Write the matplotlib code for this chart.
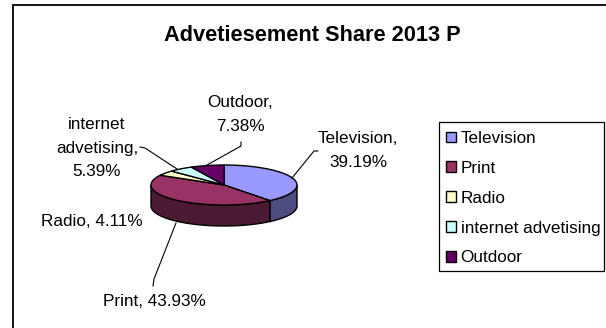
import numpy as np
import matplotlib
matplotlib.use('Agg')
import matplotlib.pyplot as plt
from matplotlib.patches import Polygon, Patch, Rectangle

categories = ['Television', 'Print', 'Radio', 'internet advetising', 'Outdoor']
shares = [39.19, 43.93, 4.11, 5.39, 7.38]
top_colors = ['#9999FF', '#993366', '#FFFFCC', '#CCFFFF', '#660066']
side_colors = ['#4D4D80', '#4D1A33', '#808066', '#668080', '#330033']

plt.rcParams['font.family'] = ['Liberation Sans', 'DejaVu Sans']

W, H = 606, 328
cx, cy, rx, ry, depth = 224, 185, 73, 20, 21

fig = plt.figure(figsize=(W / 100, H / 100), dpi=100)
ax = fig.add_axes([0, 0, 1, 1])
ax.set_xlim(0, W)
ax.set_ylim(H, 0)
ax.axis('off')


def rim(a0, a1, dy=0):
    # points on the ellipse, angles clockwise from 12 o'clock
    t = np.radians(np.linspace(a0, a1, 80))
    return np.column_stack([cx + rx * np.sin(t), cy + dy - ry * np.cos(t)])


# outer frame, only top and left are inside the image
ax.plot([W, 13, 13], [5, 5, H], color='#111111', lw=1.4, solid_joinstyle='miter')

ax.text(312, 35.5, 'Advetiesement Share 2013 P', ha='center', va='center',
        fontsize=15.7, fontweight='bold', color='black')

edges = np.concatenate([[0], np.cumsum(shares)]) * 3.6

# walls first, only the front half of the cake shows
for i in range(len(shares)):
    a0, a1 = max(edges[i], 90), min(edges[i + 1], 270)
    if a0 >= a1:
        continue
    wall = np.vstack([rim(a0, a1), rim(a0, a1, depth)[::-1]])
    ax.add_patch(Polygon(wall, closed=True, fc=side_colors[i], ec='black', lw=1.0, zorder=2))

# top face
for i in range(len(shares)):
    face = np.vstack([[cx, cy], rim(edges[i], edges[i + 1])])
    ax.add_patch(Polygon(face, closed=True, fc=top_colors[i], ec='black', lw=1.0, zorder=3))

# data labels
label_font = 12.3
line_gap = 1.72
ax.text(358, 150.5, f'{categories[0]},\n{shares[0]:.2f}%', ha='center', va='center',
        fontsize=label_font, linespacing=line_gap)
ax.text(154, 301, f'{categories[1]}, {shares[1]:.2f}%', ha='center', va='center', fontsize=label_font)
ax.text(92, 222, f'{categories[2]}, {shares[2]:.2f}%', ha='center', va='center', fontsize=label_font)
ax.text(97, 148, f'internet\nadvetising,\n{shares[3]:.2f}%', ha='center', va='center',
        fontsize=label_font, linespacing=line_gap)
ax.text(240, 114.5, f'{categories[4]},\n{shares[4]:.2f}%', ha='center', va='center',
        fontsize=label_font, linespacing=line_gap)

# leader lines
leaders = [
    ([292, 314, 318], [178, 151, 151]),
    ([176, 154, 153], [223, 279, 286]),
    ([177, 145, 140], [169, 148, 147]),
    ([207, 241, 241], [165, 146, 142]),
]
for xs, ys in leaders:
    ax.plot(xs, ys, color='black', lw=0.8, zorder=4)

# legend box drawn by hand so its size stays fixed, thin grey drop shadow behind
ax.add_patch(Rectangle((440, 123), 164.5, 149, fc='#808080', ec='none', zorder=1))
ax.add_patch(Rectangle((439, 122), 164.5, 149, fc='white', ec='black', lw=0.9, zorder=1.5))
handles = [Patch(fc=c, ec='black', lw=1.0) for c in top_colors]
leg = ax.legend(handles, categories, loc='upper left', bbox_to_anchor=(445.5, 131),
                bbox_transform=ax.transData, fontsize=label_font, frameon=False,
                borderaxespad=0, borderpad=0, handlelength=0.6, handleheight=0.6,
                handletextpad=0.29, labelspacing=0.87)
leg.set_zorder(5)

fig.savefig('out.png', dpi=100, facecolor='white')
